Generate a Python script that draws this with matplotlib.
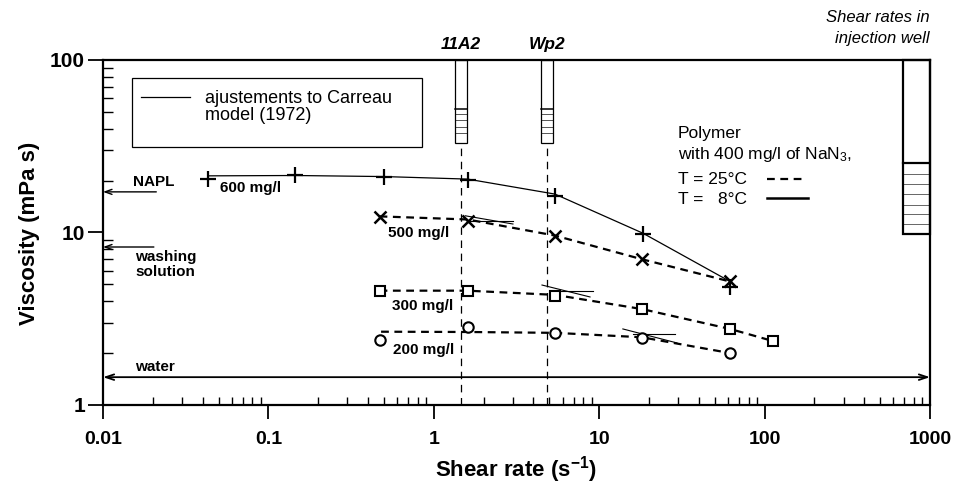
import numpy as np
import matplotlib
matplotlib.use('Agg')
import matplotlib.pyplot as plt
from matplotlib.patches import Rectangle

# Measured viscosities (mPa s) vs shear rate (1/s)
# 600 mg/l at T = 8 C
x600 = [0.043, 0.145, 0.5, 1.6, 5.4, 18.4, 61.8]
y600 = [20.4, 21.6, 21.0, 20.2, 16.3, 9.8, 4.83]
# Carreau fit for 600 mg/l
fit600_x = [0.043, 0.145, 0.5, 1.6, 5.4, 18.4, 61.8]
fit600_y = [21.3, 21.4, 21.1, 20.4, 16.7, 9.9, 5.2]

# T = 25 C series
x500 = [0.47, 1.6, 5.4, 18.1, 61.8]
y500 = [12.3, 11.7, 9.55, 7.02, 5.23]
x300 = [0.47, 1.6, 5.4, 18.1, 61.8, 112]
y300 = [4.6, 4.6, 4.28, 3.6, 2.76, 2.35]
x200 = [0.47, 1.6, 5.4, 18.1, 61.8]
y200 = [2.38, 2.83, 2.61, 2.45, 2.0]

fit500_x = [0.47, 1.6, 5.4, 18.1, 61.8]
fit500_y = [12.4, 11.9, 9.6, 7.0, 5.2]
fit300_x = [0.47, 1.6, 5.4, 18.1, 61.8, 112]
fit300_y = [4.6, 4.6, 4.35, 3.6, 2.76, 2.35]
fit200_x = [0.48, 1.6, 5.4, 18.1, 61.8]
fit200_y = [2.66, 2.65, 2.62, 2.47, 2.0]

# asymptote construction lines (plateau + power-law branch)
tangents = [
    ([1.59, 3.01], [11.6, 11.6]), ([1.55, 3.01], [12.5, 11.2]),
    ([5.04, 9.18], [4.58, 4.58]), ([4.51, 8.80], [4.96, 4.23]),
    ([16.0, 28.7], [2.58, 2.58]), ([13.9, 29.5], [2.76, 2.29]),
]

# reference viscosities
napl_visc = 17.2
washing_visc = 8.24
water_visc = 1.45

# shear rates at the two wells
wells = ['11A2', 'Wp2']
well_rate = [1.46, 4.86]
well_lo = [1.34, 4.47]
well_hi = [1.585, 5.28]
well_bottom = 33.0
well_split = 52.2
well_bands = [48.4, 44.9, 41.1, 37.9]

# shear rates in injection well
inj_lo, inj_hi = 687, 1000
inj_bottom = 9.76
inj_split = 25.2
inj_bands = [21.8, 19.1, 16.7, 14.5, 12.8, 11.2]

plt.rcParams['font.family'] = 'Liberation Sans'
plt.rcParams['mathtext.fontset'] = 'custom'
plt.rcParams['mathtext.rm'] = 'Liberation Sans'
plt.rcParams['mathtext.it'] = 'Liberation Sans:italic'
plt.rcParams['mathtext.bf'] = 'Liberation Sans:bold'

fig = plt.figure(figsize=(9.57, 4.91), dpi=100)
ax = fig.add_axes([103/957, 86/491, 827/957, 345/491])
ax.set_xscale('log')
ax.set_yscale('log')
ax.set_xlim(0.01, 1000)
ax.set_ylim(1, 100)

for s in ax.spines.values():
    s.set_linewidth(1.6)

ax.tick_params(axis='x', which='major', direction='out', length=10, width=1.3,
               labelsize=14, pad=9)
ax.tick_params(axis='x', which='minor', direction='in', length=6, width=1.0)
ax.tick_params(axis='y', which='major', direction='out', length=11, width=1.3,
               labelsize=15, pad=2)
ax.tick_params(axis='y', which='minor', direction='in', length=7, width=1.0)
ax.xaxis.set_minor_locator(matplotlib.ticker.LogLocator(base=10, subs=np.arange(2, 10), numticks=20))
ax.xaxis.set_minor_formatter(matplotlib.ticker.NullFormatter())
ax.yaxis.set_minor_formatter(matplotlib.ticker.NullFormatter())
ax.set_xticks([0.01, 0.1, 1, 10, 100, 1000])
ax.set_xticklabels(['0.01', '0.1', '1', '10', '100', '1000'], fontweight='bold')
ax.set_yticks([1, 10, 100])
ax.set_yticklabels(['1', '10', '100'], fontweight='bold')

fig.text(30/957, 1 - 233/491, 'Viscosity (mPa s)', rotation=90, fontsize=16,
         fontweight='bold', ha='center', va='center')
fig.text(516/957, 1 - 470/491, r'Shear rate (s$^{\mathbf{-1}}$)', fontsize=16,
         fontweight='bold', ha='center', va='center')

# fitted curves
ax.plot(fit600_x, fit600_y, color='black', lw=0.9)
dash = (0, (3.5, 2.5))
ax.plot(fit500_x, fit500_y, color='black', lw=1.6, linestyle=dash)
ax.plot(fit300_x, fit300_y, color='black', lw=1.6, linestyle=dash)
ax.plot(fit200_x, fit200_y, color='black', lw=1.6, linestyle=dash)
for tx, ty in tangents:
    ax.plot(tx, ty, color='black', lw=0.8)

# measurements
ax.plot(x600, y600, linestyle='none', marker='+', ms=12, mew=1.6, color='black')
ax.plot(x500, y500, linestyle='none', marker='x', ms=8.5, mew=1.8, color='black')
ax.plot(x300, y300, linestyle='none', marker='s', ms=7.5, mew=1.5,
        mfc='white', mec='black')
ax.plot(x200, y200, linestyle='none', marker='o', ms=7.5, mew=1.5,
        mfc='white', mec='black')

lab_kw = dict(fontsize=11, fontweight='bold', va='center', ha='left')
ax.text(0.0509, 18.1, '600 mg/l', **lab_kw)
ax.text(0.528, 9.93, '500 mg/l', **lab_kw)
ax.text(0.559, 3.75, '300 mg/l', **lab_kw)
ax.text(0.566, 2.08, '200 mg/l', **lab_kw)

# reference fluids
arr = dict(arrowstyle='->,head_length=0.5,head_width=0.18', lw=1.0, color='black',
           shrinkA=0, shrinkB=0)
ax.annotate('', xy=(0.01, napl_visc), xytext=(0.021, napl_visc), arrowprops=arr)
ax.text(0.0152, 19.6, 'NAPL', **lab_kw)
ax.annotate('', xy=(0.01, washing_visc), xytext=(0.0203, washing_visc), arrowprops=arr)
ax.text(0.0156, 6.52, 'washing\nsolution', linespacing=1.15, **lab_kw)
arr2 = dict(arr, arrowstyle='<->,head_length=0.6,head_width=0.2', lw=1.3)
ax.annotate('', xy=(0.01, water_visc), xytext=(1000, water_visc), arrowprops=arr2)
ax.text(0.0156, 1.66, 'water', **lab_kw)

# well shear-rate bars
for name, xc, lo, hi in zip(wells, well_rate, well_lo, well_hi):
    ax.add_patch(Rectangle((lo, well_bottom), hi - lo, 100 - well_bottom,
                           fill=False, ec='black', lw=0.9, clip_on=False, zorder=3))
    ax.plot([lo, hi], [well_split, well_split], color='black', lw=1.1)
    for b in well_bands:
        ax.plot([lo, hi], [b, b], color='#555555', lw=0.7)
    ax.plot([xc, xc], [1, well_bottom], color='black', lw=0.9,
            linestyle=(0, (6, 4.5)))
    ax.annotate(name, xy=(xc, 100), xytext=(0, 6), textcoords='offset points',
                fontsize=12.5, fontweight='bold', fontstyle='italic',
                ha='center', va='bottom', annotation_clip=False)

ax.add_patch(Rectangle((inj_lo, inj_bottom), inj_hi - inj_lo, 100 - inj_bottom,
                       fill=False, ec='black', lw=1.6, clip_on=False, zorder=3))
ax.plot([inj_lo, inj_hi], [inj_split, inj_split], color='black', lw=1.6)
for b in inj_bands:
    ax.plot([inj_lo, inj_hi], [b, b], color='#666666', lw=0.7)
fig.text(930/957, 1 - 18/491, 'Shear rates in', fontsize=12, fontstyle='italic',
         ha='right', va='center')
fig.text(930/957, 1 - 39/491, 'injection well', fontsize=12, fontstyle='italic',
         ha='right', va='center')

# legend box for the fitted curve
ax.add_patch(Rectangle((0.0351, 0.748), 0.3506, 0.2, transform=ax.transAxes,
                       fill=False, ec='black', lw=0.9))
ax.plot([0.046, 0.105], [0.893, 0.893], transform=ax.transAxes, color='black', lw=0.9)
ax.text(0.1233, 0.8625, 'ajustements to Carreau\nmodel (1972)', transform=ax.transAxes,
        fontsize=13, va='center', ha='left', linespacing=1.0)

# temperature key
ax.text(0.695, 0.788, 'Polymer', transform=ax.transAxes, fontsize=12.5, va='center')
ax.text(0.695, 0.7275, 'with 400 mg/l of NaN$_3$,', transform=ax.transAxes,
        fontsize=12.5, va='center')
ax.text(0.695, 0.655, 'T = 25°C', transform=ax.transAxes, fontsize=12.5, va='center')
ax.text(0.695, 0.597, 'T =   8°C', transform=ax.transAxes, fontsize=12.5, va='center')
ax.plot([0.803, 0.851], [0.655, 0.655], transform=ax.transAxes, color='black',
        lw=1.6, linestyle=dash)
ax.plot([0.803, 0.852], [0.600, 0.600], transform=ax.transAxes, color='black', lw=1.8)

fig.savefig('out.png', dpi=100)
